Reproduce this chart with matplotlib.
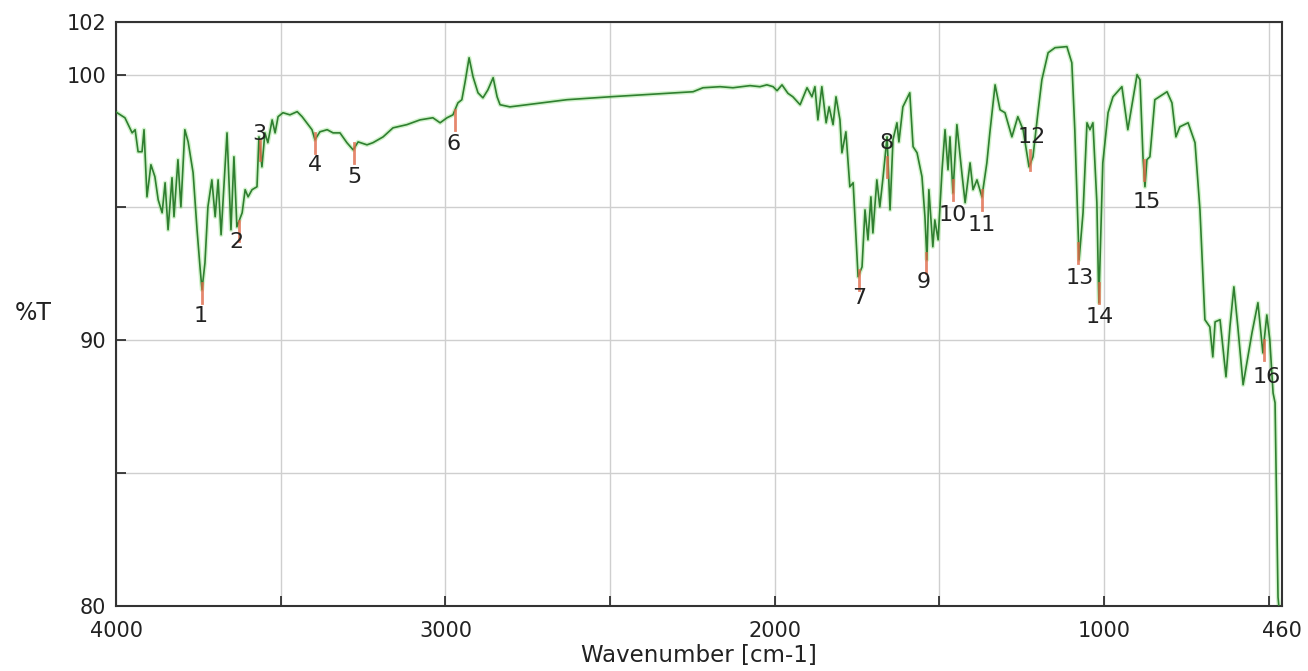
import matplotlib
matplotlib.use("Agg")
import matplotlib.pyplot as plt
from matplotlib.ticker import FixedLocator

plt.rcParams['font.family'] = ['DejaVu Sans']

# IR transmittance spectrum (wavenumber in cm-1, %T)
wavenumber = [
    4000, 3997, 3973, 3951, 3942, 3933, 3921, 3915, 3906, 3894, 3882, 3872,
    3860, 3851, 3842, 3830, 3824, 3812, 3803, 3791, 3781, 3766, 3754, 3745,
    3739, 3730, 3721, 3709, 3699, 3690, 3681, 3663, 3651, 3642, 3633, 3617,
    3608, 3599, 3587, 3572, 3566, 3557, 3548, 3539, 3526, 3517, 3508, 3493,
    3472, 3450, 3435, 3405, 3396, 3381, 3359, 3341, 3320, 3299, 3280, 3265,
    3238, 3220, 3189, 3159, 3117, 3077, 3038, 3016, 2995, 2977, 2962, 2950,
    2940, 2928, 2916, 2901, 2886, 2871, 2855, 2843, 2834, 2804, 2631, 2500,
    2248, 2218, 2166, 2127, 2075, 2045, 2024, 2005, 1993, 1978, 1960, 1945,
    1923, 1902, 1887, 1878, 1869, 1857, 1844, 1835, 1823, 1814, 1802, 1796,
    1784, 1772, 1762, 1747, 1735, 1726, 1717, 1708, 1702, 1690, 1681, 1671,
    1659, 1650, 1641, 1629, 1623, 1611, 1590, 1580, 1568, 1553, 1544, 1538,
    1532, 1520, 1514, 1504, 1492, 1483, 1474, 1468, 1459, 1447, 1432, 1422,
    1407, 1398, 1386, 1371, 1356, 1347, 1331, 1316, 1301, 1280, 1262, 1246,
    1228, 1216, 1201, 1189, 1170, 1149, 1113, 1098, 1089, 1076, 1064, 1052,
    1043, 1034, 1022, 1016, 1004, 988, 973, 946, 928, 900, 891, 882,
    876, 870, 861, 846, 809, 794, 782, 770, 745, 724, 709, 694,
    679, 670, 663, 648, 630, 618, 606, 594, 578, 551, 533, 518,
    506, 497, 487, 481, 472, 466,
]
transmittance = [
    98.60, 98.57, 98.38, 97.81, 97.93, 97.10, 97.10, 97.93, 95.40, 96.61, 96.16, 95.29,
    94.80, 95.93, 94.16, 96.12, 94.65, 96.80, 95.02, 97.93, 97.47, 96.31, 94.16, 92.76,
    91.90, 92.91, 95.02, 96.04, 94.65, 96.04, 93.97, 97.81, 94.16, 96.91, 94.27, 94.80,
    95.67, 95.40, 95.67, 95.78, 97.66, 96.53, 97.81, 97.44, 98.30, 97.81, 98.42, 98.57,
    98.49, 98.61, 98.42, 97.93, 97.55, 97.85, 97.93, 97.81, 97.81, 97.44, 97.17, 97.47,
    97.36, 97.44, 97.66, 98.00, 98.12, 98.30, 98.38, 98.19, 98.38, 98.49, 98.94, 99.06,
    99.74, 100.64, 99.92, 99.32, 99.13, 99.43, 99.89, 99.17, 98.87, 98.79, 99.06, 99.17,
    99.36, 99.51, 99.55, 99.51, 99.59, 99.55, 99.62, 99.55, 99.40, 99.62, 99.30, 99.17,
    98.87, 99.51, 99.17, 99.55, 98.30, 99.55, 98.19, 98.79, 98.12, 99.17, 98.30, 97.06,
    97.85, 95.78, 95.93, 92.39, 92.76, 94.91, 93.78, 95.40, 94.04, 96.04, 95.02, 96.16,
    97.66, 94.91, 97.55, 98.19, 97.47, 98.79, 99.32, 97.29, 97.06, 96.16, 94.65, 93.03,
    95.67, 93.52, 94.53, 93.78, 96.42, 97.93, 96.42, 97.66, 95.55, 98.12, 96.31, 95.18,
    96.68, 95.67, 96.04, 95.40, 96.68, 97.81, 99.62, 98.68, 98.57, 97.66, 98.42, 97.93,
    96.53, 96.91, 98.57, 99.81, 100.83, 101.02, 101.06, 100.45, 97.93, 93.03, 94.80, 98.19,
    97.93, 98.19, 95.18, 91.41, 96.68, 98.57, 99.17, 99.55, 97.93, 100.00, 99.81, 96.91,
    95.78, 96.80, 96.91, 99.06, 99.36, 98.94, 97.66, 98.04, 98.19, 97.44, 94.91, 90.77,
    90.50, 89.37, 90.69, 90.77, 88.62, 90.50, 92.01, 90.50, 88.32, 90.28, 91.41, 89.52,
    90.95, 90.02, 88.01, 87.64, 80.32, 79.50,
]

# picked peaks
peak_ids = list(range(1, 17))
peak_wn = [3739, 3627, 3563, 3396, 3277, 2971, 1744, 1659,
           1541, 1459, 1371, 1225, 1079, 1016, 879, 515]
peak_t = [92.16, 94.50, 97.55, 97.81, 97.44, 98.68, 92.65, 96.91,
          93.29, 96.04, 95.67, 97.17, 93.67, 92.16, 96.80, 90.02]

# label offsets from the peak tick, in pixels
label_dx = [-1, -2, -1, 0, 0, -1, 0, 0, -2, 0, 0, 2, 2, 1, 3, 3]
label_dy = [-33, -21, 6, -32, -34, -34, -28, 14, -29, -35, -35, 13, -35, -34, -42, -37]

fig = plt.figure(figsize=(13.08, 6.71), dpi=100)
ax = fig.add_axes([0.0887, 0.0975, 0.8914, 0.8702])

ax.plot(wavenumber, transmittance, color='#7ddc6a', lw=3.2, alpha=0.35,
        solid_joinstyle='round', zorder=2)
ax.plot(wavenumber, transmittance, color='#2f7f30', lw=1.2, zorder=3)

for pid, w, t, dx, dy in zip(peak_ids, peak_wn, peak_t, label_dx, label_dy):
    ax.plot([w, w], [t, t - 0.75], color='#e06a4a', lw=2, alpha=0.8, zorder=4)
    ax.annotate(str(pid), (w, t), xytext=(dx, dy), textcoords='offset pixels',
                ha='center', va='center', fontsize=16, color='#222222', zorder=5)

ax.set_xlim(4000, 460)
ax.set_ylim(80, 102)
ax.xaxis.set_major_locator(FixedLocator([4000, 3000, 2000, 1000, 460]))
ax.xaxis.set_minor_locator(FixedLocator([3500, 2500, 1500, 500]))
ax.yaxis.set_major_locator(FixedLocator([80, 90, 100, 102]))
ax.yaxis.set_minor_locator(FixedLocator([85, 95]))

ax.grid(True, which='both', color='#cfcfcf', lw=1, zorder=0)
ax.tick_params(which='both', direction='in', length=7, width=1.2, colors='#222222')
ax.tick_params(axis='x', which='major', labelsize=15, pad=11)
ax.tick_params(axis='y', which='major', labelsize=15, pad=7)

for sp in ax.spines.values():
    sp.set_linewidth(1.5)
    sp.set_color('#333333')

ax.set_xlabel("Wavenumber [cm-1]", fontsize=16.5, color='#222222', labelpad=2)
ax.set_ylabel("%T", fontsize=17, color='#222222', rotation=0)
ax.yaxis.set_label_coords(-0.071, 0.48)

fig.savefig("out.png", dpi=100)
